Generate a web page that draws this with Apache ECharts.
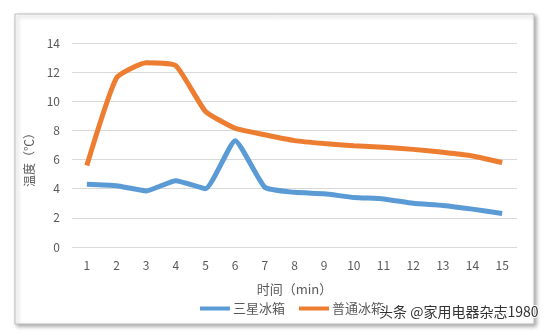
<!DOCTYPE html>
<html>
<head>
<meta charset="utf-8">
<script src="https://cdn.jsdelivr.net/npm/echarts@6/dist/echarts.min.js"></script>
<style>
  html, body { margin: 0; padding: 0; background: #fff; }
  #chart { width: 550px; height: 336px; }
</style>
</head>
<body>
<div id="chart"></div>
<script>
var chart = echarts.init(document.getElementById('chart'));

let minutes = ['1','2','3','4','5','6','7','8','9','10','11','12','13','14','15']
let samsung = [4.3, 4.2, 3.85, 4.55, 4.0, 7.3, 4.1, 3.75, 3.65, 3.4, 3.3, 3.0, 2.85, 2.6, 2.3]
let normal = [5.6, 11.6, 12.65, 12.45, 9.3, 8.15, 7.7, 7.3, 7.1, 6.95, 6.85, 6.7, 6.5, 6.25, 5.8]
let seriesNames = ['三星冰箱', '普通冰箱']

let font = '"Noto Sans CJK SC", "Noto Sans", sans-serif'

chart.setOption({
  animation: false,
  graphic: [
    {
      type: 'rect',
      shape: { x: 15, y: 14, width: 519, height: 310 },
      style: {
        fill: '#fff',
        stroke: '#bfbfbf',
        lineWidth: 1,
        shadowBlur: 4,
        shadowOffsetX: 2,
        shadowOffsetY: 2,
        shadowColor: 'rgba(0,0,0,0.35)'
      },
      z: -10
    },
    {
      type: 'text',
      left: 378,
      top: 304,
      style: {
        text: '头条 @家用电器杂志1980',
        font: '14px ' + font,
        fill: '#333',
        stroke: '#fff',
        lineWidth: 2
      },
      z: 100
    }
  ],
  grid: { left: 72, right: 33, top: 43, bottom: 89 },
  legend: {
    bottom: 16,
    left: 195,
    itemWidth: 30,
    itemHeight: 4,
    itemGap: 14,
    icon: 'rect',
    textStyle: { color: '#595959', fontSize: 13, fontFamily: font, padding: [0, 0, 0, -2] },
    data: seriesNames
  },
  xAxis: {
    type: 'category',
    data: minutes,
    name: '时间（min）',
    nameLocation: 'middle',
    nameGap: 36,
    nameTextStyle: { color: '#595959', fontSize: 13, fontFamily: font },
    axisLine: { show: false },
    axisTick: { show: false },
    axisLabel: { color: '#595959', fontSize: 12, margin: 12, fontFamily: font }
  },
  yAxis: {
    type: 'value',
    min: 0,
    max: 14,
    interval: 2,
    name: '温度（℃）',
    nameLocation: 'middle',
    nameGap: 33,
    nameRotate: 90,
    nameTextStyle: { color: '#595959', fontSize: 12, fontFamily: font, padding: [0, 24, 0, 0] },
    axisLine: { show: false },
    axisTick: { show: false },
    axisLabel: { color: '#595959', fontSize: 12, margin: 12, fontFamily: font },
    splitLine: { lineStyle: { color: '#d9d9d9', width: 1 } }
  },
  series: [
    {
      name: seriesNames[0],
      type: 'line',
      data: samsung,
      smooth: 0.15,
      symbol: 'none',
      itemStyle: { color: '#5b9bd5' },
      lineStyle: { color: '#5b9bd5', width: 5 }
    },
    {
      name: seriesNames[1],
      type: 'line',
      data: normal,
      smooth: 0.15,
      symbol: 'none',
      itemStyle: { color: '#ed7d31' },
      lineStyle: { color: '#ed7d31', width: 5 }
    }
  ]
});
</script>
</body>
</html>
